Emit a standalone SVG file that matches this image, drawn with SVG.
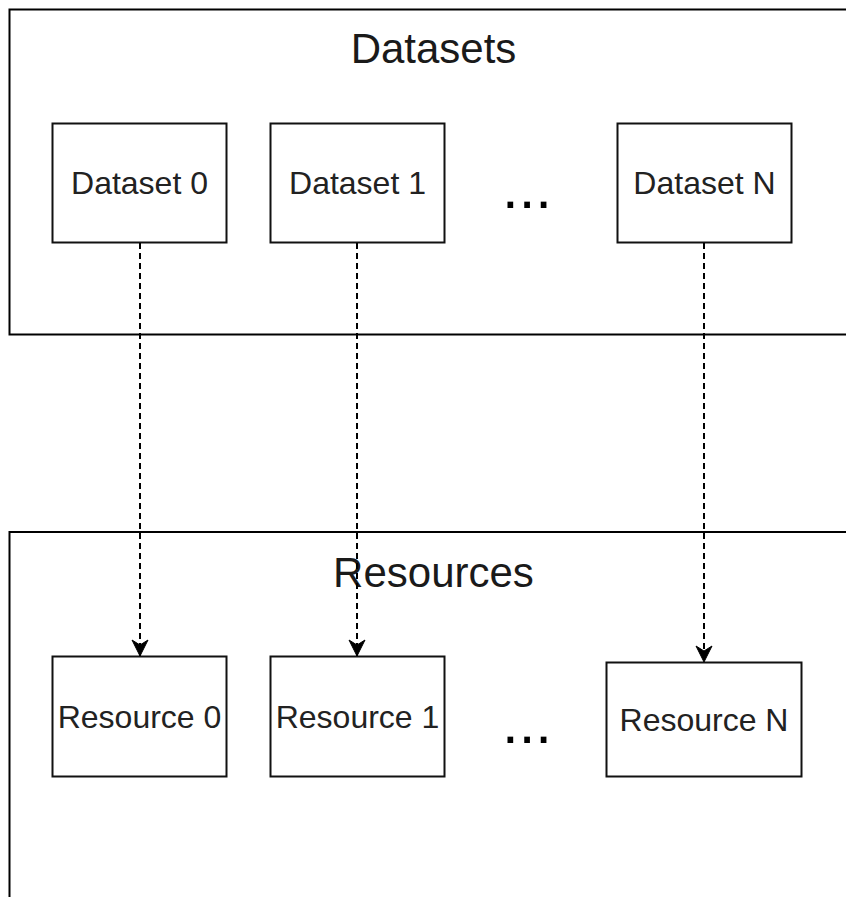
<svg xmlns="http://www.w3.org/2000/svg" width="846" height="897" viewBox="0 0 846 897">
  <style>
    .container { fill: #ffffff; stroke: #000000; stroke-width: 2; }
    .box { fill: #ffffff; stroke: #111111; stroke-width: 2; }
    .title { font-family: "Liberation Sans", Arial, sans-serif; font-size: 42px; fill: #1a1a1a; text-anchor: middle; }
    .label { font-family: "Liberation Sans", Arial, sans-serif; font-size: 32px; fill: #222222; text-anchor: middle; }
    .dots { font-family: "Liberation Sans", Arial, sans-serif; font-size: 60px; fill: #000000; }
    .link { fill: none; stroke: #000000; stroke-width: 2; stroke-dasharray: 6 4; }
  </style>
  <defs>
    <!-- downward arrowhead; its tip sits on the path end -->
    <marker id="arrow" markerUnits="userSpaceOnUse" markerWidth="22" markerHeight="22" viewBox="-11 -19 22 22" refX="0" refY="0" orient="0">
      <path d="M0,0 L-8,-16 L0,-11 L8,-16 Z" fill="#000000" stroke="#000000" stroke-width="1"/>
    </marker>
  </defs>
  <rect width="846" height="897" fill="#ffffff"/>

  <g id="datasets">
    <rect class="container" x="9.5" y="9.5" width="900" height="325"/>
    <text class="title" x="433.5" y="63">Datasets</text>
  </g>

  <g id="resources">
    <rect class="container" x="9.5" y="532" width="900" height="420"/>
    <text class="title" x="433.5" y="587">Resources</text>
  </g>

  <g id="dataset-0">
    <rect class="box" x="52.5" y="123.5" width="174" height="119"/>
    <text class="label" x="139.5" y="194">Dataset 0</text>
  </g>
  <g id="dataset-1">
    <rect class="box" x="270.5" y="123.5" width="174" height="119"/>
    <text class="label" x="357.5" y="194">Dataset 1</text>
  </g>
  <g id="dataset-dots">
    <text class="dots" x="502" y="208">...</text>
  </g>
  <g id="dataset-n">
    <rect class="box" x="617.5" y="123.5" width="174" height="119"/>
    <text class="label" x="704.5" y="194">Dataset N</text>
  </g>

  <g id="resource-0">
    <rect class="box" x="52.5" y="656.5" width="174" height="120"/>
    <text class="label" x="139.5" y="728">Resource 0</text>
  </g>
  <g id="resource-1">
    <rect class="box" x="270.5" y="656.5" width="174" height="120"/>
    <text class="label" x="357.5" y="728">Resource 1</text>
  </g>
  <g id="resource-dots">
    <text class="dots" x="502" y="743">...</text>
  </g>
  <g id="resource-n">
    <rect class="box" x="606.5" y="662.5" width="195" height="114"/>
    <text class="label" x="704" y="731">Resource N</text>
  </g>

  <g id="connectors">
    <path class="link" d="M140,243 L140,656" marker-end="url(#arrow)"/>
    <path class="link" d="M357,243 L357,656" marker-end="url(#arrow)"/>
    <path class="link" d="M704,243 L704,662" marker-end="url(#arrow)"/>
  </g>
</svg>
